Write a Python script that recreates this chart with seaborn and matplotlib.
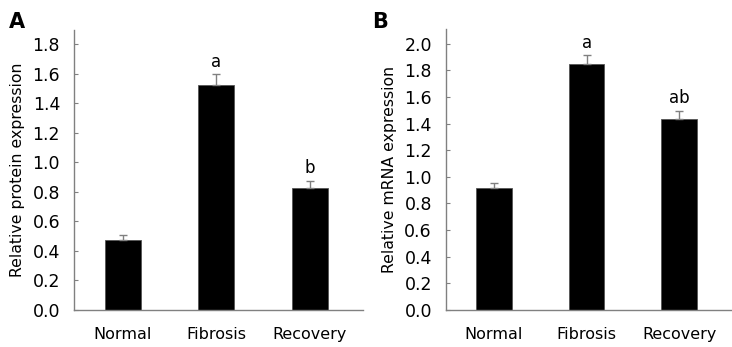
import numpy as np
import seaborn as sns
import matplotlib.pyplot as plt

# data
groups = ["Normal", "Fibrosis", "Recovery"]
protein_mean = [0.474, 1.52, 0.824]
protein_err = [0.036, 0.075, 0.052]
protein_marks = ["", "a", "b"]
mrna_mean = [0.916, 1.845, 1.431]
mrna_err = [0.038, 0.068, 0.065]
mrna_marks = ["", "a", "ab"]

sns.set_style("ticks")
plt.rcParams['font.family'] = ['DejaVu Sans']
plt.rcParams['text.color'] = 'black'
plt.rcParams['axes.labelcolor'] = 'black'
plt.rcParams['xtick.labelcolor'] = 'black'
plt.rcParams['ytick.labelcolor'] = 'black'
grey = "#808080"

fig = plt.figure(figsize=(7.32, 3.47), dpi=100)
ax_a = fig.add_axes([0.101, 0.107, 0.395, 0.807])
ax_b = fig.add_axes([0.609, 0.107, 0.391, 0.809])


def draw_panel(ax, means, errs, marks, ylabel, ymax, yticks):
    sns.barplot(x=groups, y=means, ax=ax, color="black", width=0.385,
                edgecolor="#555555", linewidth=0.6, saturation=1)
    ax.errorbar(np.arange(len(groups)), means, yerr=[np.zeros(len(errs)), errs],
                fmt="none", ecolor=grey, elinewidth=1, capsize=3, capthick=1)
    for i, (m, e, t) in enumerate(zip(means, errs, marks)):
        if t:
            ax.text(i, m + e + ymax * 0.012, t, ha="center", va="bottom", fontsize=12)
    ax.set_xlim(-0.52, 2.57)
    ax.set_ylim(0, ymax)
    ax.set_yticks(yticks)
    ax.set_yticklabels([f"{v:.1f}" for v in yticks])
    ax.set_ylabel(ylabel, fontsize=11.3, labelpad=5)
    ax.tick_params(axis="y", direction="in", length=3, color=grey, labelsize=12.5, pad=10)
    ax.tick_params(axis="x", length=0, labelsize=11.5, pad=12)
    for s in ["top", "right"]:
        ax.spines[s].set_visible(False)
    for s in ["left", "bottom"]:
        ax.spines[s].set_color(grey)
        ax.spines[s].set_linewidth(1)


draw_panel(ax_a, protein_mean, protein_err, protein_marks,
           "Relative protein expression", 1.897, np.arange(0, 1.81, 0.2))
draw_panel(ax_b, mrna_mean, mrna_err, mrna_marks,
           "Relative mRNA expression", 2.11, np.arange(0, 2.01, 0.2))

fig.text(0.012, 0.965, "A", fontsize=15, fontweight="bold", va="top")
fig.text(0.508, 0.965, "B", fontsize=15, fontweight="bold", va="top")

fig.savefig("out.png", dpi=100)
